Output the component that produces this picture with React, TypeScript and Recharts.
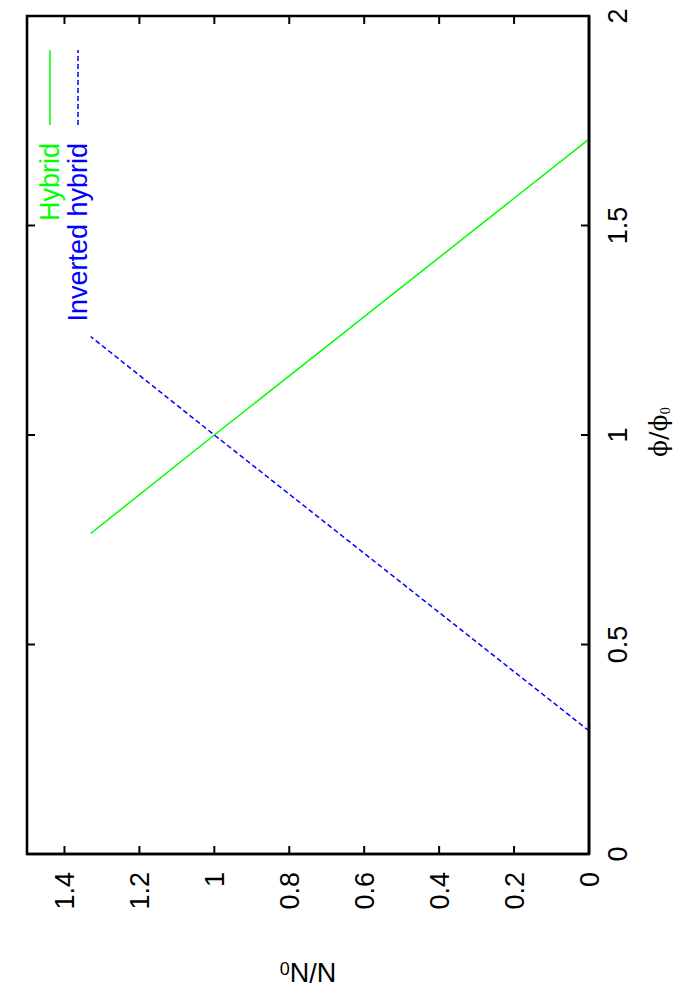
import { LineChart, Line, XAxis, YAxis, ReferenceArea, Legend } from 'recharts'

const phiTicks = [0, 0.5, 1, 1.5, 2]
const nTicks = [0, 0.2, 0.4, 0.6, 0.8, 1, 1.2, 1.4]

const hybridPhi = [0.765, 1.0, 1.706]
const hybridN = [1.33, 1.0, 0]
const invertedPhi = [0.294, 1.0, 1.235]
const invertedN = [0, 1.0, 1.33]

const seriesNames = ['Hybrid', 'Inverted hybrid']
const seriesColors = ['#00ff00', '#0000ff']

const hybrid = hybridPhi.map((phi, i) => ({ phi, n: hybridN[i] }))
const inverted = invertedPhi.map((phi, i) => ({ phi, n: invertedN[i] }))

// drawn landscape, then turned a quarter turn like the gnuplot page
const W = 1000
const H = 700
const PLOT = { left: 146, right: 984, top: 27, bottom: 589 }
const FONT = '"Liberation Sans", Arial, Helvetica, sans-serif'
const FS = 27
const TICK = 8
const FRAME = 2.6

// eslint-disable-next-line @typescript-eslint/no-explicit-any
function PhiTick({ x, payload }: any) {
  return (
    <g>
      <line x1={x} x2={x} y1={PLOT.bottom} y2={PLOT.bottom - TICK} stroke="#000" strokeWidth={2} />
      <line x1={x} x2={x} y1={PLOT.top} y2={PLOT.top + TICK} stroke="#000" strokeWidth={2} />
      <text x={x} y={PLOT.bottom + 38} textAnchor="middle" fontSize={FS} fontFamily={FONT} fill="#000">
        {String(payload.value)}
      </text>
    </g>
  )
}

// eslint-disable-next-line @typescript-eslint/no-explicit-any
function NTick({ y, payload }: any) {
  return (
    <g>
      <line x1={PLOT.left} x2={PLOT.left + TICK} y1={y} y2={y} stroke="#000" strokeWidth={2} />
      <line x1={PLOT.right} x2={PLOT.right - TICK} y1={y} y2={y} stroke="#000" strokeWidth={2} />
      <text x={PLOT.left - 18} y={y + FS * 0.36} textAnchor="end" fontSize={FS} fontFamily={FONT} fill="#000">
        {String(payload.value)}
      </text>
    </g>
  )
}

function PhiLabel() {
  return (
    <text x={568} y={667} textAnchor="middle" fontSize={25} fontFamily='"DejaVu Serif", serif' fill="#000">
      ϕ/ϕ<tspan fontSize={12} dy={3}>0</tspan>
    </text>
  )
}

function NLabel() {
  const cx = 37
  const cy = 308
  return (
    <text
      x={cx}
      y={cy}
      transform={`rotate(-90 ${cx} ${cy})`}
      textAnchor="middle"
      fontSize={FS}
      fontFamily={FONT}
      fill="#000"
    >
      N/N<tspan fontSize={18} dy={1}>0</tspan>
    </text>
  )
}

function LegendBox() {
  return (
    <div style={{ fontFamily: FONT, fontSize: FS }}>
      {seriesNames.map((name, i) => (
        <div
          key={name}
          style={{
            display: 'flex',
            justifyContent: 'flex-end',
            alignItems: 'center',
            height: 28,
            paddingRight: W - 950,
            color: seriesColors[i],
          }}
        >
          <span style={{ marginRight: 18, lineHeight: '28px' }}>{name}</span>
          <svg width={75} height={4} style={{ display: 'block' }}>
            <line
              x1={0}
              x2={75}
              y1={2}
              y2={2}
              stroke={seriesColors[i]}
              strokeWidth={1.5}
              strokeDasharray={i === 1 ? '5 3' : undefined}
            />
          </svg>
        </div>
      ))}
    </div>
  )
}

export default function App() {
  return (
    <div
      style={{
        position: 'absolute',
        left: 0,
        top: 0,
        width: H,
        height: W,
        overflow: 'hidden',
        background: '#fff',
      }}
    >
      <div
        style={{
          width: W,
          height: H,
          transformOrigin: '0 0',
          transform: `translate(0px, ${W}px) rotate(-90deg)`,
        }}
      >
        <LineChart width={W} height={H} margin={{ top: PLOT.top, right: W - PLOT.right, bottom: 0, left: 0 }}>
          <XAxis
            dataKey="phi"
            type="number"
            domain={[0, 2]}
            ticks={phiTicks}
            interval={0}
            height={H - PLOT.bottom}
            axisLine={{ stroke: '#000', strokeWidth: FRAME }}
            tickLine={false}
            tick={<PhiTick />}
            label={<PhiLabel />}
          />
          <YAxis
            dataKey="n"
            type="number"
            domain={[0, 1.5]}
            ticks={nTicks}
            interval={0}
            width={PLOT.left}
            axisLine={{ stroke: '#000', strokeWidth: FRAME }}
            tickLine={false}
            tick={<NTick />}
            label={<NLabel />}
          />
          <ReferenceArea
            x1={0}
            x2={2}
            y1={0}
            y2={1.5}
            ifOverflow="visible"
            fill="none"
            stroke="#000"
            strokeWidth={FRAME}
            strokeOpacity={1}
          />
          <Legend
            layout="horizontal"
            verticalAlign="middle"
            align="center"
            content={<LegendBox />}
            wrapperStyle={{ top: 36, left: 0, width: W }}
          />
          <Line
            data={hybrid}
            dataKey="n"
            name={seriesNames[0]}
            stroke={seriesColors[0]}
            strokeWidth={1.5}
            dot={false}
            isAnimationActive={false}
          />
          <Line
            data={inverted}
            dataKey="n"
            name={seriesNames[1]}
            stroke={seriesColors[1]}
            strokeWidth={1.5}
            strokeDasharray="5 3"
            dot={false}
            isAnimationActive={false}
          />
        </LineChart>
      </div>
    </div>
  )
}
